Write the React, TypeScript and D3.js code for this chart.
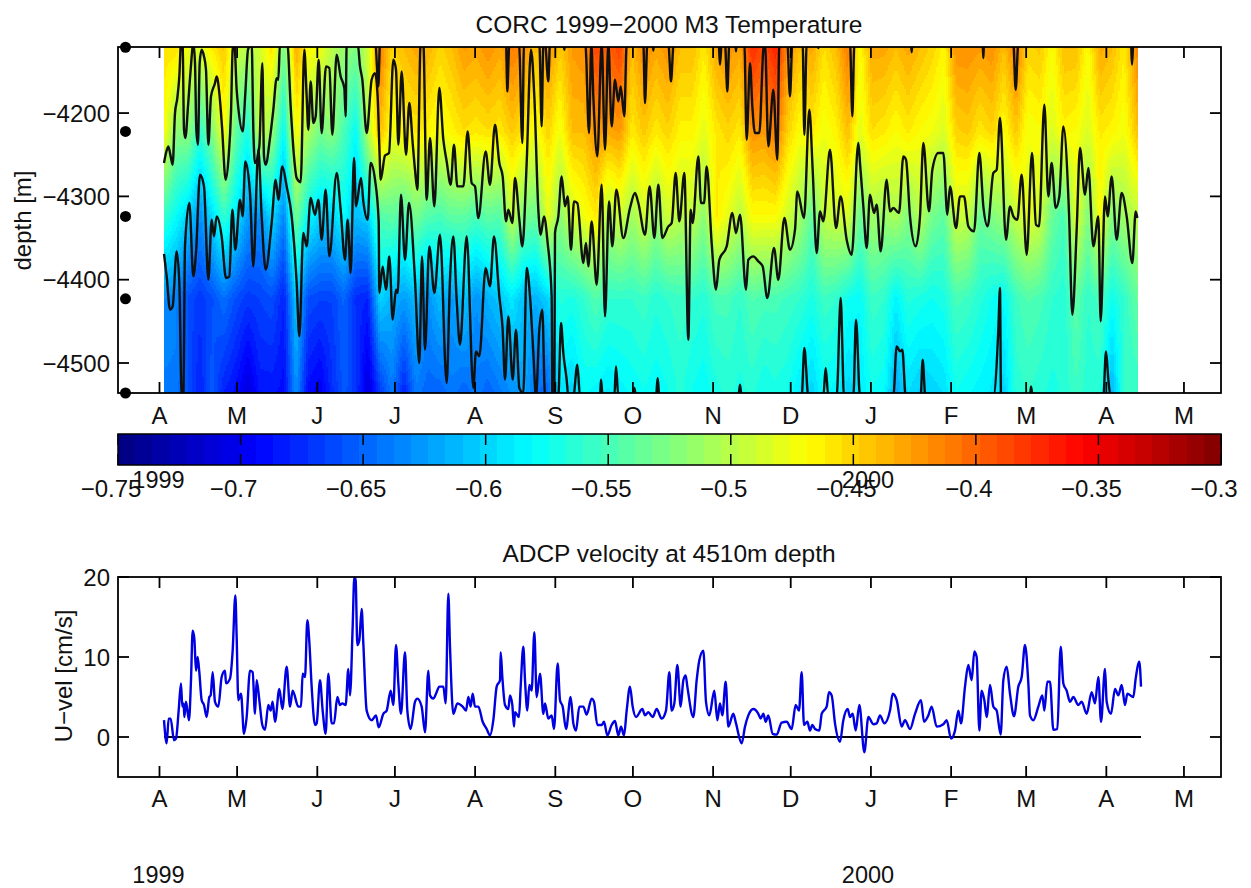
import React, { useMemo } from "react";
import * as d3 from "d3";

const DAY_MS = 864e5;
const HOURS_PER_SAMPLE = 3.0924;
const APR1_SAMPLE = 178.5;
const APR1 = Date.UTC(1999, 3, 1);

const monthLabels = ["A", "M", "J", "J", "A", "S", "O", "N", "D", "J", "F", "M", "A", "M"];
const monthStarts = [[1999, 3], [1999, 4], [1999, 5], [1999, 6], [1999, 7], [1999, 8], [1999, 9], [1999, 10], [1999, 11], [2000, 0], [2000, 1], [2000, 2], [2000, 3], [2000, 4]];
const yearLabels = [["1999", 158.5], ["2000", 868]] as const;

const depthTicks = [-4200, -4300, -4400, -4500];
const velocityTicks = [20, 10, 0];
const colorbarTicks = [-0.75, -0.7, -0.65, -0.6, -0.55, -0.5, -0.45, -0.4, -0.35, -0.3];
const colorbarLabels = ["−0.75", "−0.7", "−0.65", "−0.6", "−0.55", "−0.5", "−0.45", "−0.4", "−0.35", "−0.3"];

const sensorDepths = [-4121, -4222, -4324, -4423, -4536];

const sensor1 = [-.455,-.455,-.475,-.485,-.46,-.445,-.49,-.5,-.49,-.455,-.53,-.43,-.47,-.475,-.5,-.515,-.525,-.49,-.41,-.45,-.44,-.43,-.435,-.45,-.44,-.425,-.43,-.42,-.43,
  -.41,-.42,-.44,-.42,-.445,-.425,-.42,-.385,-.4,-.385,-.44,-.415,-.43,-.42,-.44,-.44,-.46,-.43,-.42,-.43,-.375,-.39,-.37,-.42,-.44,-.43,-.455,-.44,-.41,
  -.47,-.43,-.43,-.44,-.43,-.44,-.45,-.465,-.42,-.42,-.425,-.42,-.44,-.41,-.45,-.445,-.47,-.44,-.44,-.47,-.43,-.44,-.46,-.42];
const sensor2 = [-.47,-.52,-.52,-.56,-.525,-.47,-.54,-.57,-.49,-.515,-.58,-.47,-.505,-.53,-.52,-.55,-.58,-.5,-.44,-.475,-.465,-.46,-.465,-.475,-.465,-.455,-.46,-.455,-.46,
  -.445,-.46,-.475,-.45,-.475,-.44,-.44,-.42,-.43,-.425,-.46,-.445,-.46,-.45,-.465,-.465,-.48,-.46,-.45,-.46,-.42,-.425,-.41,-.45,-.47,-.46,-.475,-.465,-.44,
  -.48,-.455,-.46,-.47,-.46,-.47,-.475,-.485,-.45,-.445,-.46,-.45,-.47,-.445,-.475,-.47,-.485,-.465,-.47,-.485,-.46,-.465,-.475,-.445];
const sensor3 = [-.558,-.58,-.6,-.63,-.595,-.56,-.59,-.625,-.63,-.595,-.635,-.53,-.58,-.6,-.6,-.58,-.61,-.6,-.545,-.54,-.55,-.53,-.545,-.55,-.54,-.54,-.55,-.54,-.545,
  -.495,-.53,-.535,-.48,-.52,-.49,-.475,-.46,-.505,-.49,-.51,-.49,-.515,-.49,-.5,-.495,-.52,-.46,-.48,-.5,-.47,-.47,-.47,-.49,-.51,-.54,-.495,-.49,-.485,
  -.535,-.51,-.515,-.505,-.525,-.5,-.53,-.54,-.49,-.495,-.535,-.525,-.515,-.495,-.48,-.49,-.535,-.55,-.48,-.525,-.47,-.525,-.51,-.5];
const sensor4 = [-.63,-.635,-.66,-.67,-.66,-.645,-.66,-.67,-.665,-.66,-.68,-.605,-.66,-.665,-.665,-.65,-.675,-.68,-.6,-.615,-.625,-.61,-.63,-.61,-.625,-.605,-.63,-.615,-.605,
  -.59,-.61,-.615,-.6,-.565,-.57,-.56,-.545,-.56,-.56,-.56,-.555,-.565,-.56,-.555,-.56,-.565,-.55,-.55,-.56,-.545,-.55,-.55,-.555,-.56,-.57,-.555,-.56,-.575,
  -.58,-.555,-.56,-.585,-.565,-.57,-.575,-.57,-.55,-.555,-.565,-.575,-.58,-.555,-.545,-.55,-.56,-.565,-.54,-.56,-.55,-.575,-.56,-.54];
const sensor5 = [-.64,-.64,-.66,-.68,-.655,-.68,-.69,-.71,-.685,-.685,-.69,-.63,-.69,-.7,-.675,-.655,-.67,-.71,-.67,-.64,-.68,-.64,-.65,-.65,-.64,-.65,-.64,-.65,-.64,
  -.63,-.62,-.645,-.65,-.59,-.6,-.58,-.585,-.59,-.585,-.58,-.575,-.58,-.575,-.565,-.575,-.58,-.57,-.565,-.57,-.565,-.575,-.57,-.575,-.59,-.6,-.58,-.585,-.6,
  -.59,-.575,-.58,-.62,-.595,-.605,-.6,-.595,-.575,-.58,-.585,-.59,-.6,-.565,-.56,-.565,-.57,-.565,-.555,-.565,-.565,-.615,-.56,-.56];

// [record sample, depth in m]
const contourMinus04 = [[192,-4116],[826,-4116],[835,-4168],[840,-4116],[1218,-4116],[1222,-4174],[1228,-4116],[1257,-4116],[1267,-4236],[1272,-4116],[1318,-4116],[1325,-4216],[1330,-4116],[1335,-4116],[1345,-4162],[1350,-4116],[1391,-4116],[1393,-4124],[1395,-4116],[1456,-4116],[1467,-4224],[1474,-4116],[1480,-4180],[1492,-4252],[1505,-4116],[1515,-4244],[1525,-4116],[1535,-4216],[1545,-4160],[1555,-4186],[1562,-4168],[1573,-4204],[1580,-4116],[1630,-4116],[1635,-4188],[1642,-4116],[1658,-4116],[1660,-4125],[1662,-4116],[1705,-4116],[1713,-4162],[1721,-4116],[1856,-4116],[1860,-4142],[1865,-4116],[1875,-4116],[1882,-4174],[1888,-4116],[1906,-4116],[1908,-4126],[1910,-4116],[1933,-4116],[1940,-4232],[1950,-4140],[1957,-4192],[1965,-4224],[1978,-4224],[1990,-4124],[1995,-4116],[2005,-4240],[2020,-4172],[2032,-4256],[2038,-4116],[2062,-4116],[2070,-4180],[2077,-4116],[2108,-4116],[2113,-4226],[2120,-4116],[2153,-4116],[2155,-4122],[2157,-4116],[2250,-4116],[2257,-4204],[2263,-4116],[2433,-4116],[2435,-4127],[2437,-4116],[2648,-4116],[2650,-4134],[2652,-4116],[2740,-4116],[2747,-4172],[2755,-4116],[3093,-4116],[3096,-4142],[3100,-4116],[3112,-4116]];

const contourMinus05 = [[192,-4260],[198,-4248],[205,-4240],[212,-4252],[218,-4262],[225,-4200],[232,-4182],[238,-4156],[243,-4116],[248,-4120],[252,-4220],[256,-4230],[264,-4192],[272,-4148],[280,-4116],[285,-4140],[289,-4220],[294,-4238],[299,-4140],[305,-4124],[312,-4132],[318,-4148],[325,-4238],[333,-4180],[345,-4164],[350,-4156],[358,-4176],[366,-4216],[377,-4280],[386,-4252],[393,-4200],[398,-4124],[403,-4116],[410,-4172],[415,-4194],[428,-4222],[436,-4176],[444,-4124],[455,-4116],[460,-4220],[465,-4260],[478,-4240],[487,-4140],[492,-4252],[497,-4262],[510,-4230],[520,-4196],[530,-4158],[535,-4160],[540,-4116],[562,-4116],[572,-4192],[582,-4252],[590,-4278],[602,-4283],[613,-4124],[620,-4180],[625,-4220],[632,-4162],[640,-4212],[647,-4204],[656,-4136],[665,-4224],[678,-4144],[688,-4146],[697,-4226],[710,-4130],[722,-4156],[733,-4170],[737,-4204],[740,-4116],[773,-4116],[780,-4144],[787,-4160],[800,-4224],[815,-4160],[825,-4152],[833,-4180],[838,-4240],[842,-4280],[855,-4251],[867,-4248],[880,-4136],[888,-4148],[895,-4238],[905,-4150],[918,-4250],[928,-4188],[938,-4236],[945,-4268],[952,-4292],[962,-4116],[970,-4116],[980,-4304],[990,-4230],[1003,-4312],[1018,-4170],[1030,-4232],[1040,-4258],[1052,-4286],[1062,-4238],[1072,-4288],[1090,-4288],[1103,-4222],[1115,-4284],[1125,-4288],[1135,-4326],[1157,-4246],[1170,-4286],[1185,-4214],[1198,-4260],
  [1208,-4276],[1218,-4330],[1225,-4316],[1237,-4332],[1245,-4278],[1258,-4328],[1267,-4360],[1280,-4260],[1293,-4124],[1303,-4180],[1315,-4316],[1322,-4346],[1332,-4324],[1343,-4356],[1355,-4420],[1357,-4540],[1363,-4540],[1365,-4344],[1375,-4324],[1385,-4276],[1395,-4312],[1403,-4300],[1413,-4364],[1422,-4306],[1432,-4308],[1450,-4380],[1458,-4356],[1465,-4384],[1475,-4330],[1490,-4406],[1505,-4286],[1515,-4444],[1527,-4306],[1537,-4360],[1549,-4292],[1570,-4350],[1590,-4314],[1605,-4296],[1615,-4308],[1635,-4346],[1649,-4288],[1663,-4350],[1675,-4286],[1687,-4350],[1705,-4336],[1715,-4332],[1727,-4272],[1738,-4330],[1753,-4272],[1765,-4472],[1772,-4316],[1778,-4332],[1795,-4252],[1803,-4308],[1812,-4308],[1820,-4264],[1835,-4356],[1848,-4412],[1858,-4376],[1880,-4360],[1897,-4320],[1908,-4344],[1920,-4322],[1938,-4412],[1945,-4376],[1960,-4372],[1975,-4378],[1988,-4384],[2002,-4422],[2022,-4362],[2035,-4400],[2053,-4326],[2070,-4364],[2085,-4340],[2092,-4294],[2112,-4326],[2128,-4196],[2138,-4268],[2150,-4368],[2160,-4318],[2170,-4330],[2190,-4244],[2208,-4338],[2222,-4300],[2240,-4352],[2255,-4370],
  [2275,-4236],[2280,-4260],[2290,-4312],[2300,-4362],[2310,-4298],[2322,-4320],[2330,-4310],[2342,-4366],[2360,-4280],[2370,-4318],[2380,-4314],[2397,-4320],[2410,-4252],[2418,-4256],[2430,-4324],[2447,-4360],[2460,-4324],[2470,-4236],[2487,-4318],[2497,-4268],[2515,-4248],[2530,-4248],[2542,-4322],[2550,-4288],[2568,-4338],[2580,-4300],[2592,-4300],[2605,-4336],[2622,-4342],[2638,-4248],[2650,-4312],[2663,-4336],[2680,-4272],[2690,-4268],[2700,-4206],[2718,-4352],[2730,-4312],[2740,-4324],[2752,-4328],[2765,-4274],[2780,-4370],[2796,-4248],[2808,-4334],[2817,-4336],[2833,-4190],[2845,-4300],[2855,-4260],[2867,-4314],[2878,-4300],[2890,-4216],[2907,-4320],[2917,-4442],[2930,-4340],[2940,-4242],[2955,-4298],[2965,-4266],[2980,-4360],[2995,-4324],[3002,-4450],[3015,-4300],[3023,-4324],[3035,-4276],[3050,-4352],[3065,-4296],[3080,-4324],[3097,-4380],[3107,-4318],[3112,-4326]];

const contourMinus06 = [[192,-4369],[200,-4396],[210,-4436],[218,-4432],[230,-4366],[238,-4404],[245,-4540],[250,-4540],[255,-4360],[268,-4308],[280,-4396],[288,-4368],[300,-4274],[312,-4288],[325,-4400],[335,-4328],[342,-4348],[350,-4324],[365,-4348],[378,-4398],[388,-4396],[397,-4316],[406,-4364],[420,-4304],[428,-4324],[436,-4258],[450,-4296],[460,-4384],[475,-4244],[485,-4324],[497,-4388],[515,-4332],[527,-4280],[535,-4304],[547,-4264],[560,-4288],[575,-4324],[590,-4404],[598,-4468],[610,-4344],[620,-4360],[632,-4302],[645,-4322],[655,-4304],[665,-4352],[677,-4292],[688,-4372],[710,-4272],[722,-4316],[735,-4376],[743,-4328],[752,-4392],[762,-4254],[768,-4312],[783,-4278],[790,-4306],[803,-4328],[812,-4260],[825,-4280],[836,-4330],[838,-4416],[848,-4384],[858,-4412],[868,-4372],[878,-4448],[888,-4412],[893,-4416],[903,-4298],[915,-4376],[927,-4308],[945,-4400],[958,-4500],[966,-4372],[975,-4484],[988,-4360],[1003,-4416],[1020,-4346],[1040,-4524],[1050,-4400],[1060,-4348],[1070,-4424],[1080,-4478],[1100,-4348],[1120,-4530],[1128,-4486],[1138,-4492],[1157,-4386],[1170,-4408],[1182,-4348],[1198,-4420],
  [1208,-4460],[1215,-4520],[1225,-4444],[1238,-4520],[1248,-4460],[1258,-4530],[1270,-4536],[1280,-4386],[1290,-4420],[1300,-4488],[1308,-4540],[1318,-4460],[1327,-4436],[1335,-4540],[1375,-4540],[1383,-4452],[1390,-4488],[1400,-4520],[1405,-4540],[1420,-4540],[1432,-4502],[1440,-4540],[1500,-4540],[1503,-4520],[1508,-4540],[1543,-4540],[1548,-4504],[1555,-4540],[1600,-4540],[1603,-4530],[1608,-4540],[1668,-4540],[1673,-4518],[1678,-4540],[1915,-4540],[1920,-4526],[1925,-4540],[2105,-4540],[2113,-4482],[2125,-4540],[2170,-4540],[2177,-4506],[2185,-4540],[2210,-4540],[2222,-4422],[2232,-4540],[2260,-4540],[2268,-4448],[2280,-4540],[2380,-4540],[2390,-4480],[2400,-4486],[2407,-4484],[2417,-4540],[2462,-4540],[2468,-4496],[2476,-4540],[2680,-4540],[2695,-4460],[2700,-4410],[2703,-4540],[2790,-4540],[2793,-4528],[2798,-4540],[3010,-4540],[3018,-4486],[3025,-4520],[3032,-4540],[3112,-4540]];

// [record sample, U in cm/s]
const velocity = [[192,2.1],[197,-.2],[200,-.8],[206,2.3],[212,2.3],[222,-.4],[228,-.2],[236,3.3],[243,6.7],[247,3.8],[251,4.2],[253,2.5],[258,4.4],[267,2.1],[273,7.1],[278,13.3],[283,12.3],[288,8.3],[293,10],[298,8.1],[305,4.6],[312,4],[320,2.5],[328,5],[332,5.2],[338,8.1],[345,4.4],[355,3.8],[365,7.5],[375,8.3],[378,6.7],[390,7.3],[398,10.8],[406,17.7],[410,12.5],[415,4.6],[423,5.4],[432,.4],[440,2.5],[450,8.3],[458,8.1],[465,2.9],[470,7.1],[478,4.6],[487,1.5],[495,.9],[505,4],[512,3.3],[518,4.4],[525,1.9],[538,6],[547,3.5],[560,8.8],[570,3.8],[578,5.8],[595,3.8],[603,3.8],[608,7.9],[615,7.5],[622,14.6],[628,11.9],[635,6.3],[645,1.5],[650,1.7],[660,7.1],[668,3.3],[677,.4],[685,7.9],[695,1.7],[702,1.7],[712,5],[720,4],[727,4.2],[737,4],[745,8.5],[750,5.2],[758,13.8],[763,20],[767,19.6],[772,11.5],[778,12.1],[785,16],[790,11.7],[800,3.3],[815,2.1],[828,2.7],[836,1.2],[850,2.9],[860,3.3],[872,5.8],[880,4],[888,11.5],[895,6.7],[903,2.9],[915,10.6],[922,3.3],[932,1],[945,4.4],[952,4.8],[965,3.8],[975,.6],[985,8.3],[990,5.2],[1000,4.8],[1008,5.4],[1018,6.3],[1030,6.3],[1037,4.2],[1045,17.9],[1050,11.3],[1060,2.9],[1072,4.2],[1088,3.8],[1098,3.3],[1105,5],[1112,3.8],[1118,5.4],[1125,3.8],[1135,3.8],[1148,1.9],[1160,1],[1170,.2],[1180,2.1],[1190,6.3],
  [1200,7.1],[1202,10.6],[1207,7.5],[1215,4],[1225,3.5],[1230,5.2],[1237,4],[1242,1.3],[1245,3.1],[1257,2.5],[1262,6.3],[1270,11.3],[1275,7.1],[1282,3.3],[1288,6.5],[1295,5.8],[1303,13.1],[1310,5],[1320,7.9],[1330,2.9],[1335,4.2],[1345,2.3],[1355,2.7],[1362,1],[1373,9.2],[1380,4.6],[1388,3.8],[1398,1],[1412,5],[1420,1.7],[1428,.8],[1438,3.8],[1450,3.8],[1460,2.8],[1475,4.8],[1482,4.4],[1492,1.5],[1505,1.5],[1512,1.9],[1522,.2],[1535,1.5],[1545,2],[1555,.2],[1563,1.3],[1572,.2],[1580,3.3],[1590,6.3],[1598,3.8],[1608,2.5],[1627,3.5],[1635,2.7],[1645,3.1],[1658,2.5],[1670,3.5],[1685,2.3],[1698,3.3],[1708,8.1],[1715,3.3],[1723,4.2],[1732,9],[1742,3.8],[1750,7.1],[1757,7.7],[1762,6.3],[1780,2.5],[1790,7.1],[1798,9.6],[1810,10.8],[1818,4.4],[1828,2.7],[1843,5.8],[1852,2.1],[1860,4.2],[1867,2.7],[1877,6.9],[1885,1.3],[1900,2.9],[1908,1.7],[1925,-.8],[1935,1.3],[1945,2.7],[1960,3.5],[1975,2.9],[1982,2.3],[1990,2.9],[1997,1.9],[2005,2.7],[2018,.4],[2030,.3],[2045,1.8],[2060,1.9],[2075,1],[2087,4],[2097,3.3],[2105,8.1],[2112,1.5],[2122,1.9],[2130,.8],[2137,1.5],[2145,1],[2158,.8],[2165,2.9],[2180,3.8],[2187,5.6],[2195,5.2],[2205,1.7],[2220,-.6],[2230,2.1],[2243,3.5],[2250,2.5],[2258,2.9],[2267,.8],[2278,4],[2293,-1.9],[2305,2.5],[2320,1.6],[2330,1.7],[2340,2.7],
  [2353,1.7],[2370,3.3],[2378,5.4],[2390,4.6],[2405,1.3],[2415,2.1],[2430,1],[2445,2.9],[2463,4.6],[2472,1.9],[2485,2.7],[2495,3.8],[2510,1.3],[2530,1.6],[2540,2.1],[2553,-.2],[2565,.8],[2575,3.3],[2583,1.7],[2595,6.3],[2605,9],[2615,7.1],[2623,10.7],[2630,10],[2638,.8],[2645,5.8],[2653,4.6],[2660,2.5],[2670,6.5],[2680,3.8],[2690,3.3],[2702,.3],[2710,7.1],[2720,8.8],[2730,5.4],[2742,2.6],[2755,6.3],[2765,7.5],[2775,11.5],[2785,6.7],[2790,2.7],[2800,2.1],[2815,3.8],[2827,5.2],[2833,3.3],[2842,6.9],[2850,6.9],[2860,.9],[2872,1],[2882,11.3],[2890,6.7],[2900,5.8],[2910,4.4],[2920,5],[2935,4],[2945,4.4],[2960,2.9],[2975,5.6],[2985,4.2],[2995,7.5],[3003,1.9],[3015,8.5],[3020,4.4],[3033,2.9],[3045,6],[3055,5.2],[3065,6.5],[3075,4],[3082,5.4],[3100,5],[3107,7.3],[3118,9.4],[3123,6.3]];

const zeroLine = [[192, 0], [3123, 0]];

const FONT = "'Liberation Sans', Arial, Helvetica, sans-serif";
const LABEL_SIZE = 24;
const TITLE_SIZE = 24.5;
const W = 1251, H = 888;
const L = 118, R = 1221;
const T1 = 47, B1 = 393;
const T2 = 577, B2 = 777;
const CB_T = 434, CB_B = 465;
const NCOL = 64;

const sampleDate = (s: number) => new Date(APR1 + ((s - APR1_SAMPLE) * HOURS_PER_SAMPLE * 3600e3));
const xScale = d3.scaleUtc()
  .domain([new Date(APR1 - 16.04 * DAY_MS), new Date(APR1 + 410.32 * DAY_MS)])
  .range([L, R]);
const xs = (s: number) => xScale(sampleDate(s));
const yDepth = d3.scaleLinear().domain([-4120.7, -4536]).range([T1, B1]);
const yVel = d3.scaleLinear().domain([20, -5]).range([T2, B2]);
const tempNorm = d3.scaleLinear().domain([-0.75, -0.3]).range([0, 1]).clamp(true);
const cbX = d3.scaleLinear().domain([-0.75, -0.3]).range([L, R]);

function jet(t: number): string {
  const c = (v: number) => Math.round(255 * Math.max(0, Math.min(1, v)));
  const r = 1.5 - Math.abs(4 * t - 3);
  const g = 1.5 - Math.abs(4 * t - 2);
  const b = 1.5 - Math.abs(4 * t - 1);
  return d3.rgb(c(r), c(g), c(b)).formatHex();
}
const colorIndex = (temp: number) => Math.min(NCOL - 1, Math.floor(tempNorm(temp) * NCOL));
const paletteColor = (i: number) => jet((i + 0.5) / NCOL);

const sensorKnots = d3.range(192, 3109, 36);
const sensors = [sensor1, sensor2, sensor3, sensor4, sensor5];

function buildHeat(): { color: string; d: string }[] {
  const STEP = 2;
  const sampleInv = d3.scaleLinear().domain([xs(192), xs(3108)]).range([192, 3108]);
  const x0 = xs(192), x1 = xs(3108);
  const perSensor = sensors.map((arr) => d3.scaleLinear().domain(sensorKnots).range(arr));
  const depthInterp = (vals: number[]) => d3.scaleLinear().domain(sensorDepths).range(vals);
  const buckets: string[][] = d3.range(NCOL).map(() => []);
  for (let x = Math.round(x0); x < x1; x += STEP) {
    const s = sampleInv(x + STEP / 2);
    const col = depthInterp(perSensor.map((f) => f(s)));
    let runStart = T1, runIdx = -1;
    for (let y = T1; y <= B1; y += STEP) {
      const idx = y < B1 ? colorIndex(col(yDepth.invert(y + STEP / 2))) : -2;
      if (idx !== runIdx) {
        if (runIdx >= 0) buckets[runIdx].push(`M${x} ${runStart}h${STEP}v${Math.min(y, B1) - runStart}h${-STEP}z`);
        runStart = y;
        runIdx = idx;
      }
    }
  }
  return buckets.map((b, i) => ({ color: paletteColor(i), d: b.join("") }));
}

const lineGen = (y: d3.ScaleLinear<number, number>) =>
  d3.line<number[]>().x((p) => xs(p[0])).y((p) => y(p[1])).curve(d3.curveMonotoneX);

function Frame({ top, bottom }: { top: number; bottom: number }) {
  return (
    <g stroke="#000" strokeWidth={1.8} fill="none">
      <rect x={L} y={top} width={R - L} height={bottom - top} />
      {monthStarts.map(([yr, m], i) => {
        const x = xScale(new Date(Date.UTC(yr, m, 1)));
        return (
          <g key={i}>
            <line x1={x} x2={x} y1={top} y2={top + 11} />
            <line x1={x} x2={x} y1={bottom} y2={bottom - 11} />
          </g>
        );
      })}
    </g>
  );
}

function MonthLabels({ y }: { y: number }) {
  return (
    <g fontSize={LABEL_SIZE} textAnchor="middle" fill="#111">
      {monthStarts.map(([yr, m], i) => (
        <text key={i} x={xScale(new Date(Date.UTC(yr, m, 1)))} y={y}>{monthLabels[i]}</text>
      ))}
    </g>
  );
}

export default function App() {
  const heat = useMemo(buildHeat, []);
  const depthLine = lineGen(yDepth);
  const velLine = lineGen(yVel);
  const cbCells = d3.range(NCOL);
  return (
    <svg width={W} height={H} viewBox={`0 0 ${W} ${H}`} fontFamily={FONT} fill="#111"
      style={{ position: "absolute", left: 0, top: 0, display: "block", background: "#fff" }}>
      <defs>
        <clipPath id="clipTop"><rect x={L} y={T1} width={R - L} height={B1 - T1} /></clipPath>
        <clipPath id="clipBot"><rect x={L} y={T2} width={R - L} height={B2 - T2} /></clipPath>
      </defs>

      <text x={669} y={33} textAnchor="middle" fontSize={TITLE_SIZE}>CORC 1999−2000 M3 Temperature</text>
      <g shapeRendering="crispEdges">
        {heat.map((h, i) => h.d ? <path key={i} d={h.d} fill={h.color} /> : null)}
      </g>
      <g clipPath="url(#clipTop)" fill="none" stroke="#111" strokeWidth={2.4} strokeLinejoin="round">
        <path d={depthLine(contourMinus04 as number[][]) || ""} />
        <path d={depthLine(contourMinus05 as number[][]) || ""} />
        <path d={depthLine(contourMinus06 as number[][]) || ""} />
      </g>
      <Frame top={T1} bottom={B1} />
      {depthTicks.map((d) => (
        <g key={d}>
          <line x1={L} x2={L + 11} y1={yDepth(d)} y2={yDepth(d)} stroke="#000" strokeWidth={1.8} />
          <line x1={R} x2={R - 11} y1={yDepth(d)} y2={yDepth(d)} stroke="#000" strokeWidth={1.8} />
          <text x={110} y={yDepth(d) + 8.7} textAnchor="end" fontSize={LABEL_SIZE}>{`−${Math.abs(d)}`}</text>
        </g>
      ))}
      {sensorDepths.map((d) => <circle key={d} cx={125.5} cy={yDepth(d)} r={5.5} fill="#000" />)}
      <text transform={`translate(31,220.5) rotate(-90)`} textAnchor="middle" fontSize={LABEL_SIZE}>depth [m]</text>
      <MonthLabels y={424} />

      <g shapeRendering="crispEdges">
        {cbCells.map((i) => (
          <rect key={i} x={L + (i * (R - L)) / NCOL} y={CB_T} width={(R - L) / NCOL + 0.5} height={CB_B - CB_T} fill={paletteColor(i)} />
        ))}
      </g>
      <rect x={L} y={CB_T} width={R - L} height={CB_B - CB_T} fill="none" stroke="#000" strokeWidth={1.5} />
      {colorbarTicks.map((t, i) => (
        <g key={t}>
          <line x1={cbX(t)} x2={cbX(t)} y1={CB_T} y2={CB_T + 11} stroke="#000" strokeWidth={1.5} />
          <line x1={cbX(t)} x2={cbX(t)} y1={CB_B} y2={CB_B - 11} stroke="#000" strokeWidth={1.5} />
          <text x={cbX(t) - 7} y={497} textAnchor="middle" fontSize={LABEL_SIZE}>{colorbarLabels[i]}</text>
        </g>
      ))}
      {yearLabels.map(([label, x]) => (
        <text key={label} x={x} y={488} textAnchor="middle" fontSize={23.5}>{label}</text>
      ))}

      <text x={669} y={562} textAnchor="middle" fontSize={TITLE_SIZE}>ADCP velocity at 4510m depth</text>
      <g clipPath="url(#clipBot)" fill="none">
        <path d={velLine(zeroLine) || ""} stroke="#000" strokeWidth={1.8} />
        <path d={velLine(velocity as number[][]) || ""} stroke="#0000e0" strokeWidth={2.4} strokeLinejoin="round" />
      </g>
      <Frame top={T2} bottom={B2} />
      {velocityTicks.map((v) => (
        <g key={v}>
          <line x1={L} x2={L + 11} y1={yVel(v)} y2={yVel(v)} stroke="#000" strokeWidth={1.8} />
          <line x1={R} x2={R - 11} y1={yVel(v)} y2={yVel(v)} stroke="#000" strokeWidth={1.8} />
          <text x={110} y={yVel(v) + 8.7} textAnchor="end" fontSize={LABEL_SIZE}>{v}</text>
        </g>
      ))}
      <text transform={`translate(72,676) rotate(-90)`} textAnchor="middle" fontSize={LABEL_SIZE}>U−vel [cm/s]</text>
      <MonthLabels y={807} />
      {yearLabels.map(([label, x]) => (
        <text key={label + "b"} x={x} y={883} textAnchor="middle" fontSize={23.5}>{label}</text>
      ))}
    </svg>
  );
}
